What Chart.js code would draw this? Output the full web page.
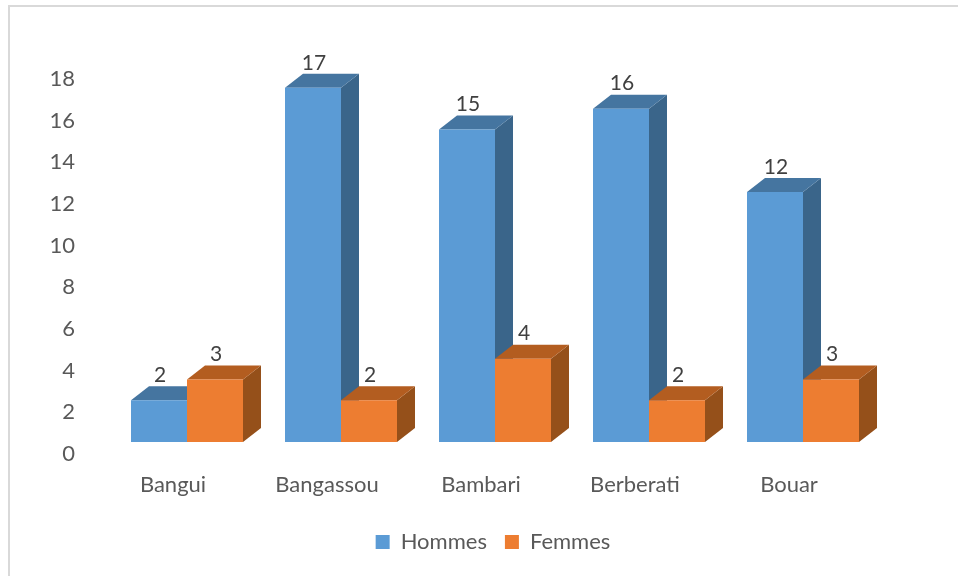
<!DOCTYPE html>
<html>
<head>
<meta charset="utf-8">
<style>
  html, body { margin: 0; padding: 0; background: #fff; overflow: hidden; }
  #wrap { position: relative; width: 958px; height: 576px; }
  #frame { position: absolute; left: 8px; top: 5px; right: 0; bottom: 0; border-left: 2px solid #d9d9d9; border-top: 2px solid #d9d9d9; }
  canvas { position: absolute; left: 0; top: 0; }
</style>
</head>
<body>
<div id="wrap">
  <div id="frame"></div>
  <canvas id="chart" width="958" height="576"></canvas>
</div>
<script src="https://cdn.jsdelivr.net/npm/chart.js@4/dist/chart.umd.min.js"></script>
<script>
const categories = ['Bangui', 'Bangassou', 'Bambari', 'Berberati', 'Bouar'];
const hommes = [2, 17, 15, 16, 12];
const femmes = [3, 2, 4, 2, 3];
const yTicks = [0, 2, 4, 6, 8, 10, 12, 14, 16, 18];

const FONT = 'Lato, Carlito, Calibri, sans-serif';
const DEPTH_X = 18, DEPTH_Y = 14, LIFT = 11;
const LEGEND_SHIFT = 33;

// darker faces of the fake 3D box, one per dataset
const faces = [
  { top: '#4575a0', side: '#3a658a' },
  { top: '#b35d20', side: '#95501a' }
];

function poly(ctx, pts, color) {
  ctx.fillStyle = color;
  ctx.beginPath();
  pts.forEach((p, i) => i ? ctx.lineTo(p[0], p[1]) : ctx.moveTo(p[0], p[1]));
  ctx.closePath();
  ctx.fill();
}

const box3d = {
  id: 'box3d',
  afterLayout(chart) {
    // legend is not centred on the canvas in the original
    chart.legend.left += LEGEND_SHIFT;
    chart.legend.right += LEGEND_SHIFT;
  },
  beforeDatasetsDraw(chart) {
    const ctx = chart.ctx;
    ctx.save();
    ctx.translate(0, -LIFT);
    // blue faces first so the orange ones sit over them
    chart.data.datasets.forEach((ds, d) => {
      chart.getDatasetMeta(d).data.forEach(bar => {
        const l = bar.x - bar.width / 2, r = bar.x + bar.width / 2;
        const t = bar.y, b = bar.base;
        poly(ctx, [[r, t], [r + DEPTH_X, t - DEPTH_Y], [r + DEPTH_X, b - DEPTH_Y], [r, b]], faces[d].side);
        poly(ctx, [[l, t], [l + DEPTH_X, t - DEPTH_Y], [r + DEPTH_X, t - DEPTH_Y], [r, t]], faces[d].top);
      });
    });
  },
  afterDatasetsDraw(chart) {
    const ctx = chart.ctx;
    // labels above the back edge of each box
    ctx.fillStyle = '#404040';
    ctx.font = '21px ' + FONT;
    ctx.textAlign = 'center';
    ctx.textBaseline = 'middle';
    chart.data.datasets.forEach((ds, d) => {
      chart.getDatasetMeta(d).data.forEach((bar, i) => {
        ctx.fillText(ds.data[i], bar.x + 1, bar.y - DEPTH_Y - 11);
      });
    });
    ctx.restore();
  }
};

new Chart(document.getElementById('chart'), {
  type: 'bar',
  data: {
    labels: categories,
    datasets: [
      { label: 'Hommes', data: hommes, backgroundColor: '#5b9bd5' },
      { label: 'Femmes', data: femmes, backgroundColor: '#ed7d31' }
    ]
  },
  options: {
    responsive: false,
    animation: false,
    layout: { padding: { left: 40, right: 78, top: 78, bottom: 13 } },
    datasets: { bar: { barPercentage: 1, categoryPercentage: 112 / 154, borderWidth: 0 } },
    plugins: {
      tooltip: { enabled: false },
      legend: {
        position: 'bottom',
        labels: {
          boxWidth: 14, boxHeight: 14, padding: 18,
          color: '#595959',
          font: { family: FONT, size: 22 }
        }
      }
    },
    scales: {
      x: {
        grid: { display: false, drawTicks: false },
        border: { display: false },
        afterFit(scale) { scale.height = 60; },
        ticks: { color: '#595959', labelOffset: -14, padding: 19, maxRotation: 0, font: { family: FONT, size: 22 } }
      },
      y: {
        min: 0,
        max: 18,
        grid: { display: false, drawTicks: false },
        border: { display: false },
        afterFit(scale) { scale.width = 70; },
        afterBuildTicks(scale) { scale.ticks = yTicks.map(v => ({ value: v })); },
        ticks: { color: '#595959', padding: 35, labelOffset: 1, font: { family: FONT, size: 22 } }
      }
    }
  },
  plugins: [box3d]
});
</script>
</body>
</html>
